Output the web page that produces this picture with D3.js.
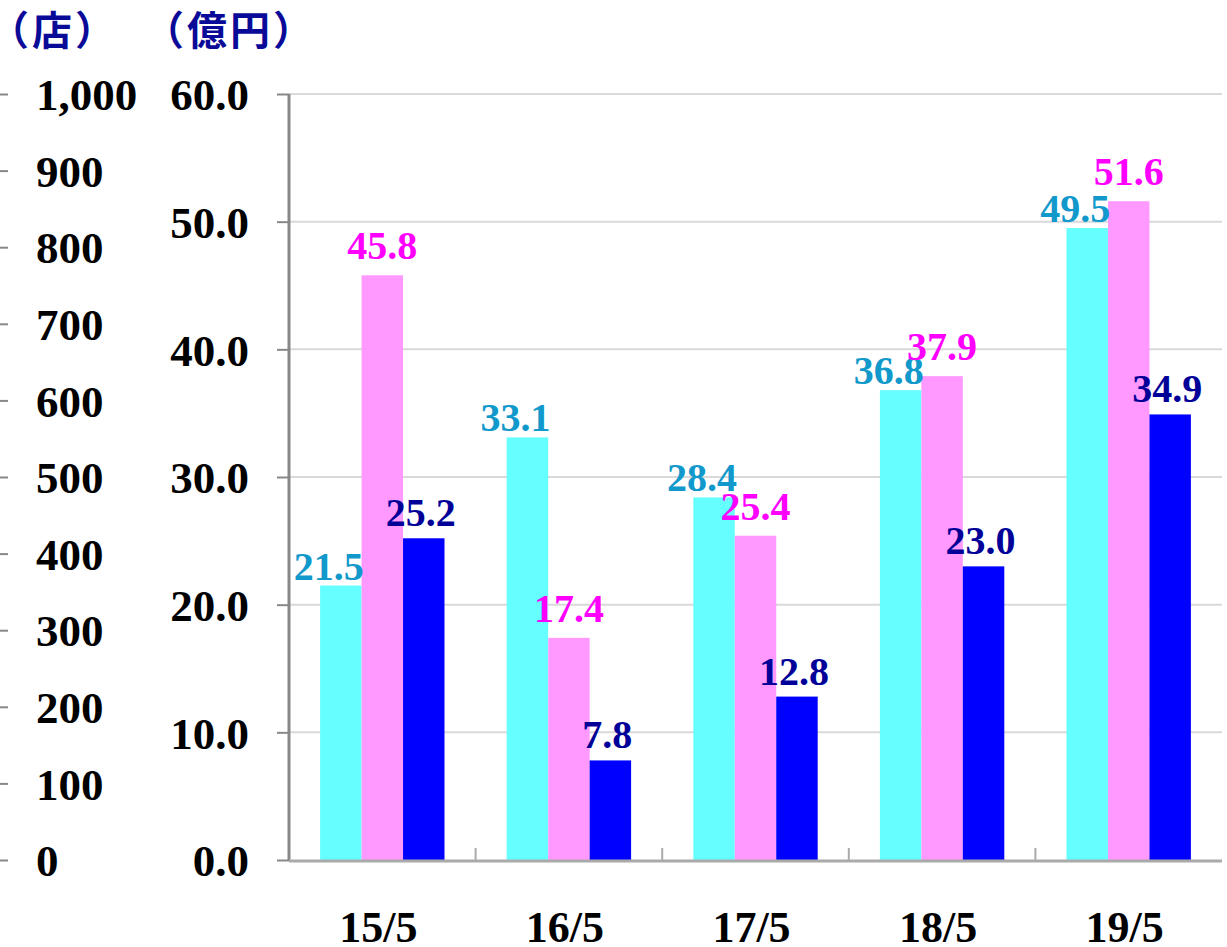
<!DOCTYPE html>
<html>
<head>
<meta charset="utf-8">
<script src="https://cdn.jsdelivr.net/npm/d3@7"></script>
<style>
  body { margin: 0; background: #fff; }
  text { font-family: "Liberation Serif", "Times New Roman", serif; font-weight: bold; }
</style>
</head>
<body>
<div id="cnt"></div>
<script>
// datos
let categorias = ["15/5", "16/5", "17/5", "18/5", "19/5"];
let serie1 = [21.5, 33.1, 28.4, 36.8, 49.5];
let serie2 = [45.8, 17.4, 25.4, 37.9, 51.6];
let serie3 = [25.2, 7.8, 12.8, 23.0, 34.9];
let ticksDer = [0, 10, 20, 30, 40, 50, 60];
let ticksIzq = [0, 100, 200, 300, 400, 500, 600, 700, 800, 900, 1000];

let ancho = 1227;
let largo = 947;

let colBarra = ["#66FFFF", "#FF99FF", "#0000FF"];
let colEtiq = ["#1199CC", "#FF00FF", "#000099"];
let dxEtiq = [-12, 0, -3];
let dyEtiq = [-6, -16, -12];

let svg = d3.select('#cnt')
    .append("svg")
    .attr('width', ancho)
    .attr('height', largo);

let x0 = 289, x1 = 1222, yTop = 94, yBase = 860;

let y = d3.scaleLinear().domain([0, 60]).range([yBase, yTop]);
let yIzq = d3.scaleLinear().domain([0, 1000]).range([yBase, yTop]);
let x = d3.scaleBand().domain(categorias).range([x0, x1]).paddingInner(0).paddingOuter(0);
let xs = d3.scaleBand().domain([0, 1, 2]).range([0, x.bandwidth()]).paddingInner(0).paddingOuter(0.75);

//lineas guia
svg.selectAll(".grid")
    .data(ticksDer.filter(d => d > 0))
    .enter()
    .append("line")
    .attr("x1", x0).attr("x2", x1)
    .attr("y1", d => y(d)).attr("y2", d => y(d))
    .style("stroke", "#d9d9d9")
    .style("stroke-width", 2);

//barras
let series = [serie1, serie2, serie3];
series.forEach(function (s, k) {
    svg.selectAll(".b" + k)
        .data(s)
        .enter()
        .append("rect")
        .attr("x", (d, i) => x(categorias[i]) + xs(k))
        .attr("y", d => y(d))
        .attr("width", xs.bandwidth())
        .attr("height", d => yBase - y(d))
        .style("fill", colBarra[k]);
});

//eje derecho (億円)
let ejeY = svg.append("g")
    .attr("transform", "translate(" + x0 + ",0)")
    .call(d3.axisLeft(y).tickValues(ticksDer).tickFormat(d3.format(".1f")).tickSize(12).tickPadding(28));
ejeY.select(".domain").remove();
ejeY.selectAll("line").style("stroke", "#888").style("stroke-width", 2);
ejeY.selectAll("text").style("font-size", "45px").style("fill", "#000")
    .attr("font-family", null).attr("dy", "0.35em");
svg.append("line")
    .attr("x1", x0).attr("x2", x0).attr("y1", yTop).attr("y2", yBase)
    .style("stroke", "#888").style("stroke-width", 3);

//eje x
svg.append("line")
    .attr("x1", x0).attr("x2", x1).attr("y1", yBase + 1).attr("y2", yBase + 1)
    .style("stroke", "#aaa").style("stroke-width", 3);
svg.selectAll(".tx")
    .data(categorias.slice(1))
    .enter()
    .append("line")
    .attr("x1", d => x(d)).attr("x2", d => x(d))
    .attr("y1", yBase - 12).attr("y2", yBase)
    .style("stroke", "#aaa").style("stroke-width", 2);
svg.selectAll(".cat")
    .data(categorias)
    .enter()
    .append("text")
    .attr("x", d => x(d) + x.bandwidth() / 2 - 4)
    .attr("y", 942)
    .attr("text-anchor", "middle")
    .style("font-size", "44px")
    .text(d => d);

//eje izquierdo (店)
let ejeI = svg.append("g")
    .attr("transform", "translate(8,0)")
    .call(d3.axisLeft(yIzq).tickValues(ticksIzq).tickFormat(d3.format(",")).tickSize(8));
ejeI.select(".domain").remove();
ejeI.selectAll("line").style("stroke", "#888").style("stroke-width", 2);
ejeI.selectAll("text")
    .attr("x", 28).attr("dy", "0.35em")
    .attr("font-family", null)
    .style("text-anchor", "start")
    .style("font-size", "45px").style("fill", "#000");

//etiquetas de valor
series.forEach(function (s, k) {
    svg.selectAll(".e" + k)
        .data(s)
        .enter()
        .append("text")
        .attr("x", (d, i) => x(categorias[i]) + xs(k) + xs.bandwidth() / 2 + dxEtiq[k])
        .attr("y", d => y(d) + dyEtiq[k])
        .attr("text-anchor", "middle")
        .style("font-size", "40px")
        .style("fill", colEtiq[k])
        .text(d => d.toFixed(1));
});

//unidades
svg.append("text")
    .attr("x", -11).attr("y", 45)
    .style("font-family", "'Noto Sans CJK JP'")
    .style("font-size", "40px")
    .style("letter-spacing", "3px")
    .style("fill", "#0A0A99")
    .text("（店）");
svg.append("text")
    .attr("x", 144).attr("y", 45)
    .style("font-family", "'Noto Sans CJK JP'")
    .style("font-size", "40px")
    .style("letter-spacing", "3px")
    .style("fill", "#0A0A99")
    .text("（億円）");
</script>
</body>
</html>
